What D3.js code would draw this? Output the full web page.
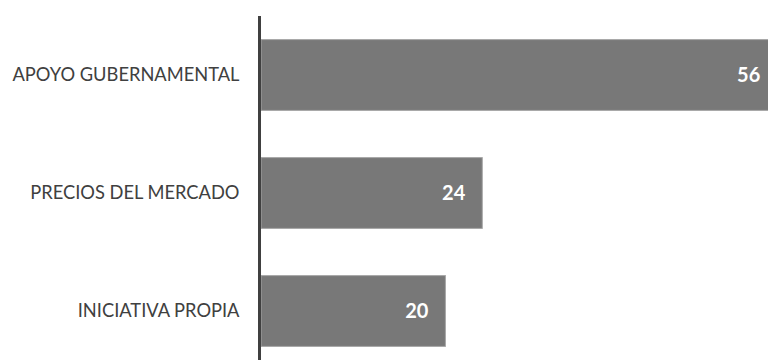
<!DOCTYPE html>
<html>
<head>
<meta charset="utf-8">
<script src="https://cdn.jsdelivr.net/npm/d3@7"></script>
<style>
  html, body { margin: 0; padding: 0; background: #fff; }
  svg { display: block; }
</style>
</head>
<body>
<svg id="chart" width="768" height="360"></svg>
<script>
const categories = ["APOYO GUBERNAMENTAL", "PRECIOS DEL MERCADO", "INICIATIVA PROPIA"];
const values = [56, 24, 20];

const width = 768, height = 360;
const left = 261;

const svg = d3.select("#chart");

const y = d3.scaleBand()
  .domain(categories)
  .range([16, 370])
  .paddingInner(0.4)
  .paddingOuter(0.2);

const x = d3.scaleLinear()
  .domain([0, 56])
  .range([left, left + 56 * 9.22]);

const data = categories.map((c, i) => ({ cat: c, val: values[i] }));

// bars
svg.append("g")
  .selectAll("rect")
  .data(data)
  .join("rect")
  .attr("x", x(0))
  .attr("y", d => y(d.cat))
  .attr("width", d => x(d.val) - x(0))
  .attr("height", y.bandwidth())
  .attr("fill", "#787878")
  .attr("stroke", "#a6a6a6")
  .attr("stroke-width", 1);

// value labels inside bar ends
svg.append("g")
  .selectAll("text")
  .data(data)
  .join("text")
  .attr("x", d => x(d.val) - 17)
  .attr("y", d => y(d.cat) + y.bandwidth() / 2)
  .attr("dy", "0.35em")
  .attr("text-anchor", "end")
  .attr("fill", "#ffffff")
  .attr("font-family", "Lato, 'Open Sans', sans-serif")
  .attr("font-weight", "bold")
  .attr("font-size", 20)
  .text(d => d.val);

// category axis
const axis = svg.append("g")
  .attr("transform", `translate(${left - 1.5},0)`)
  .call(d3.axisLeft(y).tickSize(0).tickPadding(20));

axis.select(".domain").remove();
axis.append("line")
  .attr("x1", 0).attr("x2", 0)
  .attr("y1", 16).attr("y2", height)
  .attr("stroke", "#404040")
  .attr("stroke-width", 3);

axis.selectAll(".tick text")
  .attr("fill", "#404040")
  .attr("font-family", "Lato, 'Open Sans', sans-serif")
  .attr("font-size", 18.3);
</script>
</body>
</html>
